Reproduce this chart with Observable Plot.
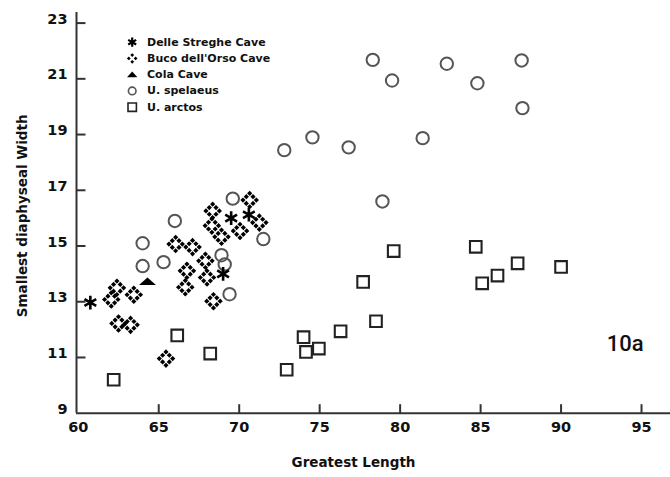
<!DOCTYPE html>
<html>
<head>
<meta charset="utf-8">
<script src="https://cdn.jsdelivr.net/npm/d3@7"></script>
<script src="https://cdn.jsdelivr.net/npm/@observablehq/plot@0.6"></script>
<style>
  html, body { margin: 0; padding: 0; background: #fff; }
  #chart { width: 670px; height: 477px; }
</style>
</head>
<body>
<div id="chart"></div>
<script>
// ---- Data ----
const strengheLength = [60.75, 69.5, 70.6, 69.0];
const strengheWidth  = [12.97, 16.0, 16.12, 14.0];

const bucoLength = [62.4, 62.05, 63.45, 62.5, 63.25, 65.45,
                    66.05, 67.1, 67.9, 66.75, 68.0, 66.65, 68.4,
                    68.35, 68.3, 68.9, 70.05, 70.65, 71.25];
const bucoWidth  = [13.5, 13.08, 13.25, 12.22, 12.17, 10.96,
                    15.07, 14.96, 14.47, 14.11, 13.87, 13.52, 13.02,
                    16.26, 15.73, 15.33, 15.54, 16.65, 15.84];

const colaLength = [64.3];
const colaWidth  = [13.72];

const spelaeusLength = [78.3, 79.5, 82.9, 84.8, 87.55, 87.6, 81.4, 74.55, 72.8, 76.8, 78.9,
                        69.6, 71.5, 66.0, 64.0, 64.0, 65.3, 68.9, 69.1, 69.4];
const spelaeusWidth  = [21.68, 20.94, 21.54, 20.84, 21.66, 19.95, 18.87, 18.9, 18.44, 18.54, 16.6,
                        16.7, 15.25, 15.9, 15.1, 14.28, 14.42, 14.67, 14.34, 13.27];

const arctosLength = [79.6, 84.7, 77.7, 87.3, 90.0, 86.05, 85.1, 78.5, 76.3, 74.0, 74.95, 74.15, 72.95, 66.15, 68.2, 62.2];
const arctosWidth  = [14.82, 14.97, 13.71, 14.38, 14.25, 13.94, 13.66, 12.3, 11.94, 11.73, 11.32, 11.2, 10.56, 11.79, 11.14, 10.2];

const xTicks = [60, 65, 70, 75, 80, 85, 90, 95];
const yTicks = [9, 11, 13, 15, 17, 19, 21, 23];

const legendLabels = ["Delle Streghe Cave", "Buco dell'Orso Cave", "Cola Cave", "U. spelaeus", "U. arctos"];
const xTitle = "Greatest Length";
const yTitle = "Smallest diaphyseal Width";
const panelTag = "10a";

// ---- helpers ----
const pts = (xs, ys) => xs.map((x, i) => ({x, y: ys[i]}));
const streghe = pts(strengheLength, strengheWidth);
const buco = pts(bucoLength, bucoWidth);
const cola = pts(colaLength, colaWidth);
const spelaeus = pts(spelaeusLength, spelaeusWidth);
const arctos = pts(arctosLength, arctosWidth);

function asteriskSym(a) {
  return {draw(ctx) {
    for (const deg of [90, 30, -30]) {
      const t = deg * Math.PI / 180, c = Math.cos(t) * a, s = Math.sin(t) * a;
      ctx.moveTo(c, s); ctx.lineTo(-c, -s);
    }
  }};
}
function diamondsSym(R, h, withDiag) {
  return {draw(ctx) {
    const c = [[0, -R], [R, 0], [0, R], [-R, 0]];
    if (withDiag) c.push([R/2, -R/2], [R/2, R/2], [-R/2, R/2], [-R/2, -R/2]);
    for (const [x, y] of c) {
      ctx.moveTo(x, y - h); ctx.lineTo(x + h, y); ctx.lineTo(x, y + h); ctx.lineTo(x - h, y); ctx.closePath();
    }
  }};
}
function triangleSym(w, up, down) {
  return {draw(ctx) { ctx.moveTo(0, -up); ctx.lineTo(w, down); ctx.lineTo(-w, down); ctx.closePath(); }};
}
function squareSym(h) {
  return {draw(ctx) { ctx.moveTo(-h, -h); ctx.lineTo(h, -h); ctx.lineTo(h, h); ctx.lineTo(-h, h); ctx.closePath(); }};
}
function circleSym(r) {
  return {draw(ctx) { ctx.moveTo(r, 0); ctx.arc(0, 0, r, 0, 2 * Math.PI); }};
}
const xTickSym = {draw(ctx) { ctx.moveTo(0, 0); ctx.lineTo(0, -9); }};
const yTickSym = {draw(ctx) { ctx.moveTo(0, 0); ctx.lineTo(9, 0); }};

const xDomain = [59.89, 96.8];
const yDomain = [9, 23.38];
const axisColor = "#333";

// legend entries
const legendSyms = [
  {symbol: asteriskSym(4.6), fill: "none", stroke: "#000", strokeWidth: 2.2},
  {symbol: diamondsSym(3.4, 1.9, false), fill: "#000", stroke: "none", strokeWidth: 0},
  {symbol: triangleSym(5.2, 3.2, 2.6), fill: "#000", stroke: "none", strokeWidth: 0},
  {symbol: circleSym(3.8), fill: "none", stroke: "#555", strokeWidth: 1.6},
  {symbol: squareSym(4.2), fill: "none", stroke: "#222", strokeWidth: 1.6}
];
const legendMarks = [];
legendLabels.forEach((label, i) => {
  const s = legendSyms[i];
  legendMarks.push(Plot.dot([label], {frameAnchor: "top-left", dx: 55.7, dy: 29.7 + i * 16.25,
    symbol: s.symbol, fill: s.fill, stroke: s.stroke, strokeWidth: s.strokeWidth}));
  legendMarks.push(Plot.text([label], {frameAnchor: "top-left", dx: 70.5, dy: 29.7 + i * 16.25,
    text: d => d, textAnchor: "start", lineAnchor: "middle", fontSize: 11, fontWeight: "bold", fill: "#111"}));
});

const chart = Plot.plot({
  width: 670,
  height: 477,
  marginLeft: 76,
  marginRight: 0,
  marginTop: 12,
  marginBottom: 64.3,
  style: {fontFamily: "'DejaVu Sans', Verdana, sans-serif", background: "#fff", color: "#111"},
  x: {domain: xDomain},
  y: {domain: yDomain},
  marks: [
    // axis lines
    Plot.ruleY([yDomain[0]], {stroke: axisColor, strokeWidth: 2}),
    Plot.ruleX([xDomain[0]], {stroke: axisColor, strokeWidth: 2}),
    // ticks
    Plot.dot(xTicks.slice(1), {x: d => d, y: yDomain[0], symbol: xTickSym, stroke: axisColor, strokeWidth: 2, fill: "none"}),
    Plot.dot(yTicks.slice(1), {x: xDomain[0], y: d => d, symbol: yTickSym, stroke: axisColor, strokeWidth: 2, fill: "none"}),
    // tick labels
    Plot.axisX(xTicks, {tickSize: 0, tickPadding: 9, fontSize: 14.5, fontWeight: "bold", label: null}),
    Plot.axisY(yTicks, {tickSize: 0, tickPadding: 9, dy: -4, fontSize: 14.5, fontWeight: "bold", label: null}),
    // axis titles
    Plot.text([xTitle], {frameAnchor: "bottom", dx: -20, dy: 54, text: d => d, textAnchor: "middle",
      fontSize: 13.5, fontWeight: "bold"}),
    Plot.text([yTitle], {frameAnchor: "left", dx: -54, dy: 3, rotate: -90, text: d => d, textAnchor: "middle",
      lineAnchor: "middle", fontSize: 13.5, fontWeight: "bold"}),
    // panel tag
    Plot.text([panelTag], {frameAnchor: "top-right", dx: -27, dy: 331, text: d => d, textAnchor: "end",
      lineAnchor: "middle", fontSize: 22, fontWeight: 500, fontFamily: "Roboto", fill: "#111"}),
    // data
    Plot.dot(arctos, {x: "x", y: "y", symbol: squareSym(5.8), fill: "none", stroke: "#222", strokeWidth: 2.1}),
    Plot.dot(spelaeus, {x: "x", y: "y", symbol: circleSym(6.2), fill: "none", stroke: "#555", strokeWidth: 2}),
    Plot.dot(buco, {x: "x", y: "y", symbol: diamondsSym(6.7, 2.6, true), fill: "#000", stroke: "none"}),
    Plot.dot(cola, {x: "x", y: "y", symbol: triangleSym(8.5, 4.2, 3.3), fill: "#000", stroke: "none"}),
    Plot.dot(streghe, {x: "x", y: "y", symbol: asteriskSym(6.8), fill: "none", stroke: "#000", strokeWidth: 2.6}),
    ...legendMarks
  ]
});
document.getElementById("chart").append(chart);
</script>
</body>
</html>
